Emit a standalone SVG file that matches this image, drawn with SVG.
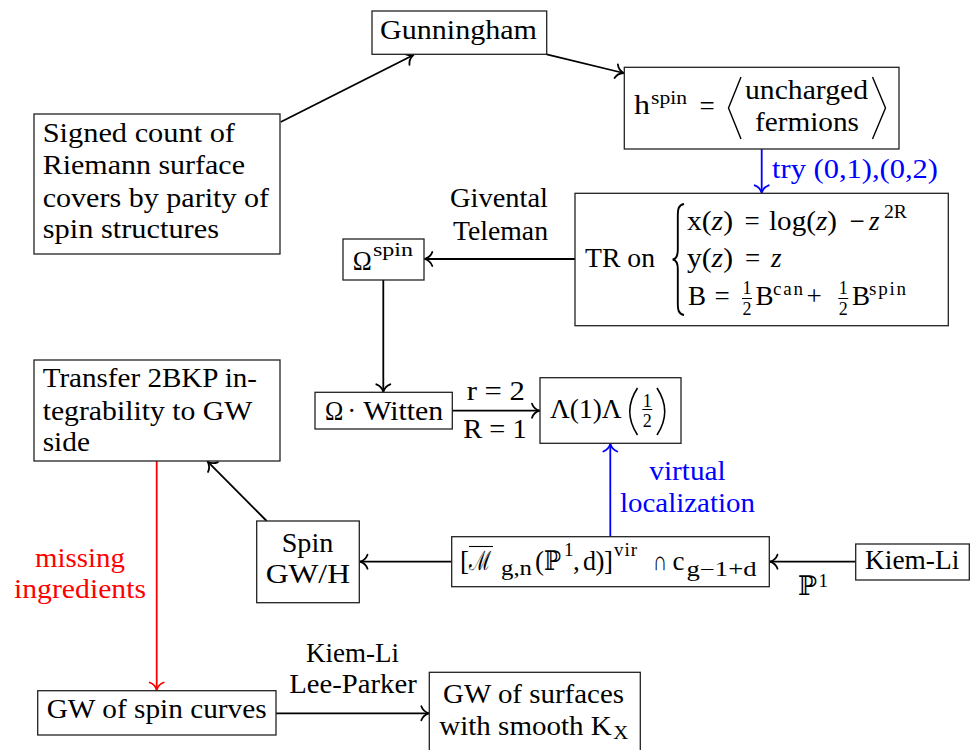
<svg xmlns="http://www.w3.org/2000/svg" width="971" height="750" viewBox="0 0 971 750">
<style>
.box{fill:#fff;stroke:#222;stroke-width:1.3}
.t{font-family:"Liberation Serif","DejaVu Serif",serif;font-size:27px;fill:#000}
.s{font-size:19px}
.u{font-size:20px}
.f{font-size:18px}
.i{font-style:italic}
.m{text-anchor:middle}
.c{fill:none;stroke:#000;stroke-width:1.8}
.cb{fill:none;stroke:#00f;stroke-width:1.8}
.cr{fill:none;stroke:#f00;stroke-width:1.8}
.d{fill:none;stroke:#000;stroke-width:1.4}
.blue{fill:#00f}
.red{fill:#f00}
</style>
<defs>
<marker id="ak" viewBox="-10 -8 12 16" markerWidth="12" markerHeight="16" refX="0" refY="0" orient="auto" markerUnits="userSpaceOnUse" overflow="visible">
<path d="M -7.5 -7 C -6 -2.8 -2.2 -0.7 0 0 C -2.2 0.7 -6 2.8 -7.5 7" fill="none" stroke="#000" stroke-width="1.8" stroke-linecap="round"/>
</marker>
<marker id="ab" viewBox="-10 -8 12 16" markerWidth="12" markerHeight="16" refX="0" refY="0" orient="auto" markerUnits="userSpaceOnUse" overflow="visible">
<path d="M -7.5 -7 C -6 -2.8 -2.2 -0.7 0 0 C -2.2 0.7 -6 2.8 -7.5 7" fill="none" stroke="#00f" stroke-width="1.8" stroke-linecap="round"/>
</marker>
<marker id="ar" viewBox="-10 -8 12 16" markerWidth="12" markerHeight="16" refX="0" refY="0" orient="auto" markerUnits="userSpaceOnUse" overflow="visible">
<path d="M -7.5 -7 C -6 -2.8 -2.2 -0.7 0 0 C -2.2 0.7 -6 2.8 -7.5 7" fill="none" stroke="#f00" stroke-width="1.8" stroke-linecap="round"/>
</marker>
</defs>
<rect x="0" y="0" width="971" height="750" fill="#fff"/>

<g id="connectors">
<path class="c" d="M 280.7 122 L 413 55.3" marker-end="url(#ak)"/>
<path class="c" d="M 546.7 54.3 L 623.5 73" marker-end="url(#ak)"/>
<path class="cb" d="M 761.7 149 L 761.7 192.8" marker-end="url(#ab)"/>
<path class="c" d="M 575 259 L 424.8 259" marker-end="url(#ak)"/>
<path class="c" d="M 383.3 280 L 383.3 391.8" marker-end="url(#ak)"/>
<path class="c" d="M 452.3 410.7 L 539.5 410.7" marker-end="url(#ak)"/>
<path class="cb" d="M 610.3 536.7 L 610.3 444" marker-end="url(#ab)"/>
<path class="c" d="M 855.7 561.7 L 770 561.7" marker-end="url(#ak)"/>
<path class="c" d="M 451.7 561.7 L 360 561.7" marker-end="url(#ak)"/>
<path class="c" d="M 266.7 521 L 207.7 461.7" marker-end="url(#ak)"/>
<path class="cr" d="M 156.7 461 L 156.7 690" marker-end="url(#ar)"/>
<path class="c" d="M 276 713.3 L 428.8 713.3" marker-end="url(#ak)"/>
<g id="edge-labels">
<text class="t blue" x="772" y="178" textLength="166" lengthAdjust="spacingAndGlyphs">try (0,1),(0,2)</text>
<text class="t" x="450" y="207" textLength="98" lengthAdjust="spacingAndGlyphs">Givental</text>
<text class="t" x="453" y="240" textLength="95" lengthAdjust="spacingAndGlyphs">Teleman</text>
<text class="t" x="466.7" y="400" textLength="58.3" lengthAdjust="spacingAndGlyphs">r = 2</text>
<text class="t" x="463.3" y="438.3" textLength="63.4" lengthAdjust="spacingAndGlyphs">R = 1</text>
<text class="t blue" x="649.3" y="480" textLength="76.4" lengthAdjust="spacingAndGlyphs">virtual</text>
<text class="t blue" x="620" y="511.7" textLength="135" lengthAdjust="spacingAndGlyphs">localization</text>
<text class="t" x="798" y="595" textLength="19" lengthAdjust="spacingAndGlyphs">ℙ</text>
<text class="t s" x="818.5" y="587">1</text>
<text class="t red" x="35" y="566.7" textLength="90" lengthAdjust="spacingAndGlyphs">missing</text>
<text class="t red" x="14" y="597.7" textLength="132" lengthAdjust="spacingAndGlyphs">ingredients</text>
<text class="t" x="306" y="661.7" textLength="93" lengthAdjust="spacingAndGlyphs">Kiem-Li</text>
<text class="t" x="289.3" y="693.3" textLength="127.4" lengthAdjust="spacingAndGlyphs">Lee-Parker</text>
</g>
</g>

<g id="gunningham">
<rect class="box" x="372" y="11" width="174.7" height="43.3"/>
<text class="t" x="380" y="39" textLength="157" lengthAdjust="spacingAndGlyphs">Gunningham</text>
</g>

<g id="signed-count">
<rect class="box" x="34" y="114" width="246" height="140"/>
<text class="t" x="42.7" y="141.7" textLength="192.3" lengthAdjust="spacingAndGlyphs">Signed count of</text>
<text class="t" x="42.7" y="174" textLength="202.3" lengthAdjust="spacingAndGlyphs">Riemann surface</text>
<text class="t" x="42.7" y="206.5" textLength="226.3" lengthAdjust="spacingAndGlyphs">covers by parity of</text>
<text class="t" x="42.7" y="238.3" textLength="176.3" lengthAdjust="spacingAndGlyphs">spin structures</text>
</g>

<g id="hspin">
<rect class="box" x="624.3" y="67.3" width="274.7" height="81.7"/>
<text class="t" x="634" y="114" textLength="16" lengthAdjust="spacingAndGlyphs">h</text>
<text class="t s" x="651" y="104" textLength="36" lengthAdjust="spacingAndGlyphs">spin</text>
<text class="t m" x="707" y="115">=</text>
<path class="d" d="M 741 77 L 728.5 108 L 741 139"/>
<text class="t" x="745" y="99" textLength="123" lengthAdjust="spacingAndGlyphs">uncharged</text>
<text class="t" x="755" y="131" textLength="104" lengthAdjust="spacingAndGlyphs">fermions</text>
<path class="d" d="M 872.5 77 L 885.5 108 L 872.5 139"/>
</g>

<g id="tr">
<rect class="box" x="575" y="193.3" width="373.3" height="132.4"/>
<text class="t" x="585" y="266.7" textLength="70" lengthAdjust="spacingAndGlyphs">TR on</text>
<path d="M 684 204 C 678.5 205 677.8 209 677.8 216 L 677.8 250 C 677.8 256 676.5 258.8 672.7 259.5 C 676.5 260.2 677.8 263 677.8 269 L 677.8 303 C 677.8 310 678.5 314 684 315" fill="none" stroke="#000" stroke-width="1.9"/>
<text class="t" x="687" y="230" textLength="46" lengthAdjust="spacingAndGlyphs">x(<tspan class="i">z</tspan>)</text>
<text class="t m" x="752" y="230">=</text>
<text class="t" x="769" y="230" textLength="68" lengthAdjust="spacingAndGlyphs">log(<tspan class="i">z</tspan>)</text>
<text class="t m" x="857" y="230">−</text>
<text class="t i" x="869" y="230">z</text>
<text class="t s" x="884" y="218" textLength="23" lengthAdjust="spacingAndGlyphs">2R</text>
<text class="t" x="687" y="266.7" textLength="46" lengthAdjust="spacingAndGlyphs">y(<tspan class="i">z</tspan>)</text>
<text class="t m" x="752.5" y="266.7">=</text>
<text class="t i" x="771" y="266.7">z</text>
<text class="t" x="688" y="305">B</text>
<text class="t m" x="722" y="305">=</text>
<text class="t f m" x="747" y="294">1</text>
<line x1="742" y1="298.5" x2="752" y2="298.5" stroke="#000" stroke-width="1"/>
<text class="t f m" x="747" y="314.5">2</text>
<text class="t" x="755.5" y="305">B</text>
<text class="t s" x="773" y="295" textLength="30" lengthAdjust="spacing">can</text>
<text class="t m" x="814" y="305">+</text>
<text class="t f m" x="843.3" y="294">1</text>
<line x1="838.3" y1="298.5" x2="848.3" y2="298.5" stroke="#000" stroke-width="1"/>
<text class="t f m" x="843.3" y="314.5">2</text>
<text class="t" x="852" y="305">B</text>
<text class="t s" x="869" y="295" textLength="37" lengthAdjust="spacing">spin</text>
</g>

<g id="omega-spin">
<rect class="box" x="343" y="239" width="81" height="41"/>
<text class="t" x="352.7" y="270" textLength="19" lengthAdjust="spacingAndGlyphs">Ω</text>
<text class="t s" x="373" y="256" textLength="40" lengthAdjust="spacingAndGlyphs">spin</text>
</g>

<g id="omega-witten">
<rect class="box" x="315" y="392.3" width="137.3" height="36.7"/>
<text class="t" x="325" y="420" textLength="18.3" lengthAdjust="spacingAndGlyphs">Ω</text>
<text class="t m" x="351.7" y="420">·</text>
<text class="t" x="363.3" y="420" textLength="80" lengthAdjust="spacingAndGlyphs">Witten</text>
</g>

<g id="lambda">
<rect class="box" x="540" y="377.7" width="141" height="65.6"/>
<text class="t" x="550" y="418.3" textLength="71.7" lengthAdjust="spacingAndGlyphs">Λ(1)Λ</text>
<path d="M 637.5 388 Q 622 411.5 637.5 435" fill="none" stroke="#000" stroke-width="1.6"/>
<text class="t f m" x="647.3" y="406.5">1</text>
<line x1="642.3" y1="409.5" x2="652.3" y2="409.5" stroke="#000" stroke-width="1"/>
<text class="t f m" x="647.3" y="427">2</text>
<path d="M 657 388 Q 672.5 411.5 657 435" fill="none" stroke="#000" stroke-width="1.6"/>
</g>

<g id="transfer">
<rect class="box" x="34" y="360" width="246" height="101"/>
<text class="t" x="42.7" y="387.3" textLength="214.3" lengthAdjust="spacingAndGlyphs">Transfer 2BKP in-</text>
<text class="t" x="42.7" y="420" textLength="209.5" lengthAdjust="spacingAndGlyphs">tegrability to GW</text>
<text class="t" x="42.7" y="451" textLength="47.3" lengthAdjust="spacingAndGlyphs">side</text>
</g>

<g id="spin-gwh">
<rect class="box" x="256.7" y="521" width="102.6" height="81.7"/>
<text class="t" x="281.7" y="551.7" textLength="51.6" lengthAdjust="spacingAndGlyphs">Spin</text>
<text class="t" x="265.7" y="583.3" textLength="84.3" lengthAdjust="spacingAndGlyphs">GW/H</text>
</g>

<g id="moduli">
<rect class="box" x="451.7" y="536.7" width="317.6" height="50"/>
<text class="t" x="460" y="570">[</text>
<line x1="469" y1="546.5" x2="493" y2="546.5" stroke="#000" stroke-width="1.1"/>
<text class="t" x="469" y="570" textLength="22" lengthAdjust="spacingAndGlyphs">ℳ</text>
<text class="t u" x="501" y="575" textLength="31" lengthAdjust="spacingAndGlyphs">g,n</text>
<text class="t" x="535" y="570">(</text>
<text class="t" x="544" y="570" textLength="17" lengthAdjust="spacingAndGlyphs">ℙ</text>
<text class="t s" x="564" y="556">1</text>
<text class="t" x="573" y="570">,</text>
<text class="t" x="583" y="570" textLength="13" lengthAdjust="spacingAndGlyphs">d</text>
<text class="t" x="595.5" y="570">)</text>
<text class="t" x="604" y="570">]</text>
<text class="t s" x="614" y="556" textLength="23" lengthAdjust="spacing">vir</text>
<text class="t" x="653" y="570" textLength="14" lengthAdjust="spacingAndGlyphs">∩</text>
<text class="t" x="672.5" y="570" textLength="12" lengthAdjust="spacingAndGlyphs">c</text>
<text class="t u" x="686.5" y="576" textLength="70" lengthAdjust="spacingAndGlyphs">g−1+d</text>
</g>

<g id="kiem-li">
<rect class="box" x="855.7" y="544" width="113.6" height="36"/>
<text class="t" x="865" y="569.3" textLength="94.3" lengthAdjust="spacingAndGlyphs">Kiem-Li</text>
</g>

<g id="gw-spin-curves">
<rect class="box" x="37.7" y="690.7" width="238.3" height="44.3"/>
<text class="t" x="46.7" y="718.3" textLength="220" lengthAdjust="spacingAndGlyphs">GW of spin curves</text>
</g>

<g id="gw-surfaces">
<rect class="box" x="429.3" y="672.3" width="211" height="80"/>
<text class="t" x="443" y="703.3" textLength="181" lengthAdjust="spacingAndGlyphs">GW of surfaces</text>
<text class="t" x="439.3" y="735" textLength="172.4" lengthAdjust="spacingAndGlyphs">with smooth K</text>
<text class="t s" x="613.3" y="739" textLength="15" lengthAdjust="spacingAndGlyphs">X</text>
</g>
</svg>
